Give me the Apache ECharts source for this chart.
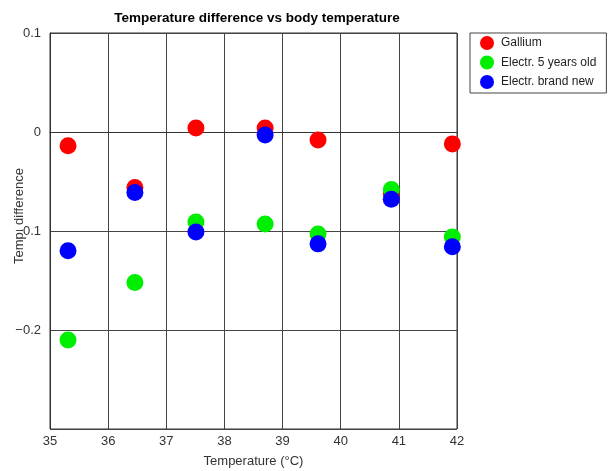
<!DOCTYPE html>
<html><head><meta charset="utf-8">
<script src="https://cdn.jsdelivr.net/npm/echarts@6/dist/echarts.min.js"></script>
<style>html,body{margin:0;padding:0;background:#fff}#c{width:608px;height:471px}</style>
</head><body><div id="c"></div>
<script>
const seriesNames = ['Gallium', 'Electr. 5 years old', 'Electr. brand new'];
const colors = ['#ff0000', '#00ee00', '#0000ff'];
const galliumX = [35.31, 36.46, 37.51, 38.70, 39.61, 40.87, 41.92];
const galliumY = [-0.014, -0.056, 0.004, 0.004, -0.008, -0.062, -0.012];
const old5X = [35.31, 36.46, 37.51, 38.70, 39.61, 40.87, 41.92];
const old5Y = [-0.210, -0.152, -0.091, -0.093, -0.103, -0.058, -0.106];
const newX = [35.31, 36.46, 37.51, 38.70, 39.61, 40.87, 41.92];
const newY = [-0.120, -0.061, -0.101, -0.003, -0.113, -0.068, -0.116];
const xTicks = [35, 36, 37, 38, 39, 40, 41, 42];
const yTicks = [-0.3, -0.2, -0.1, 0, 0.1];

const font = 'Liberation Sans, Arial, Helvetica, sans-serif';
function pairs(xs, ys){ return xs.map((x,i)=>[x, ys[i]]); }
const allData = [pairs(galliumX, galliumY), pairs(old5X, old5Y), pairs(newX, newY)];

const chart = echarts.init(document.getElementById('c'), null, {renderer:'canvas'});
chart.setOption({
  animation:false,
  backgroundColor:'#fff',
  title:{
    text:'Temperature difference vs body temperature',
    left:252, top:6, textAlign:'center',
    textStyle:{fontFamily:font, fontSize:13.5, fontWeight:'bold', color:'#000'}
  },
  legend:{
    orient:'vertical', left:470, top:33,
    padding:[3,10,4,10], itemGap:5.5, itemWidth:14, itemHeight:14,
    borderColor:'#444', borderWidth:1,
    icon:'circle',
    textStyle:{fontFamily:font, fontSize:12, color:'#222', padding:[0,0,0,2]},
    data:seriesNames
  },
  grid:{left:50, right:151, top:33, bottom:42, containLabel:false, outerBoundsMode:'none',
        show:true, borderColor:'#333', borderWidth:1},
  xAxis:{
    type:'value', min:xTicks[0], max:xTicks[xTicks.length-1], interval:1,
    name:'Temperature (°C)', nameLocation:'middle', nameGap:26, nameMoveOverlap:false,
    nameTextStyle:{fontFamily:font, fontSize:13, color:'#333'},
    axisLine:{show:true, lineStyle:{color:'#333'}},
    axisTick:{show:false},
    axisLabel:{fontFamily:font, fontSize:13, color:'#333', margin:6},
    splitLine:{show:true, lineStyle:{color:'#444', width:1}}
  },
  yAxis:{
    type:'value', min:yTicks[0], max:yTicks[yTicks.length-1], interval:0.1,
    name:'Temp. difference', nameLocation:'middle', nameGap:24, nameMoveOverlap:false,
    nameTextStyle:{fontFamily:font, fontSize:13, color:'#333', padding:[0,0,0,30]},
    axisLine:{show:true, lineStyle:{color:'#333'}},
    axisTick:{show:false},
    axisLabel:{fontFamily:font, fontSize:13, color:'#333', margin:9,
      formatter:function(v){
        const r = Math.round(v*10)/10;
        if (Math.abs(r - yTicks[0]) < 1e-9) return '';
        if (r === 0) return '0';
        return (r<0?'\u2212':'') + Math.abs(r).toFixed(1);
      }},
    splitLine:{show:true, lineStyle:{color:'#444', width:1}}
  },
  series: seriesNames.map((n,i)=>({
    name:n, type:'scatter', data:allData[i], symbol:'circle', symbolSize:17,
    itemStyle:{color:colors[i], opacity:1}
  }))
});
</script></body></html>
